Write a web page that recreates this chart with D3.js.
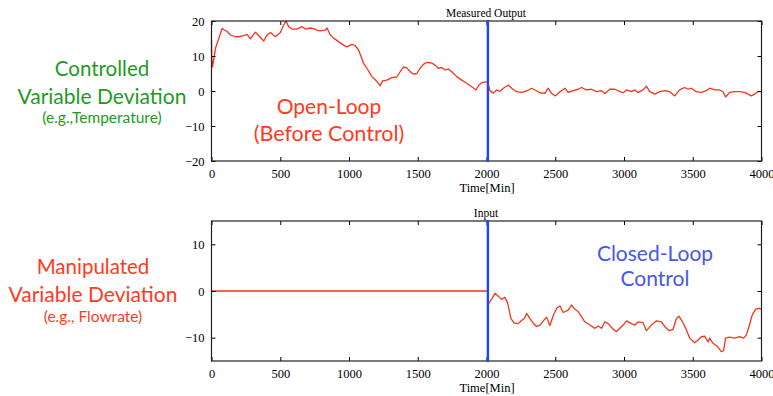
<!DOCTYPE html>
<html>
<head>
<meta charset="utf-8">
<script src="https://cdn.jsdelivr.net/npm/d3@7"></script>
<style>
  html, body { margin: 0; padding: 0; background: #fff; }
  svg { display: block; }
</style>
</head>
<body>
<svg id="chart" width="773" height="396"></svg>
<script>
// Time at which the controller is switched on
const switchTime = 2010;

// Measured output (controlled variable deviation), time in minutes
const outputTime = [0, 1, 8, 29, 53, 77, 90, 114, 138, 174, 198, 235, 259, 283, 319, 344, 380, 404, 428, 465, 501, 525, 542, 561, 586, 622, 658, 682, 719, 743, 767, 791, 827, 840, 864, 888, 924, 961, 985, 1021, 1045, 1070, 1106, 1130, 1167, 1203, 1227, 1244, 1275, 1312, 1348, 1372, 1396, 1421, 1445, 1469, 1493, 1517, 1541, 1566, 1602, 1626, 1650, 1675, 1699, 1723, 1747, 1784, 1820, 1856, 1893, 1924, 1941, 1965, 2008,
  2025, 2050, 2074, 2098, 2122, 2159, 2183, 2219, 2256, 2292, 2328, 2352, 2389, 2425, 2449, 2473, 2502, 2534, 2570, 2594, 2631, 2667, 2691, 2727, 2764, 2800, 2837, 2861, 2897, 2933, 2970, 2994, 3018, 3054, 3079, 3103, 3139, 3163, 3187, 3224, 3260, 3296, 3332, 3369, 3405, 3441, 3466, 3490, 3526, 3563, 3599, 3623, 3659, 3696, 3720, 3739, 3768, 3805, 3841, 3877, 3901, 3926, 3950, 3974, 4000];
const outputValue = [14.6, 10, 6.9, 12.2, 15, 17.9, 17.5, 17, 16, 15.5, 15.5, 15.8, 16.2, 14.9, 16.8, 15.8, 14.3, 16, 16.7, 15.5, 16.7, 18.9, 20, 18.4, 17.7, 17.7, 18.4, 17.7, 18, 17.8, 17.4, 17.2, 17.4, 18, 16, 15.1, 14.1, 13.1, 12.6, 13.3, 13, 11.7, 7.9, 6.5, 4.1, 2.7, 1.5, 2.9, 3.1, 3.8, 4, 5.5, 6.9, 6.6, 5.5, 4.8, 5, 6.5, 7.6, 8.2, 8, 7.4, 6.5, 6.7, 6, 6.3, 5.5, 4.1, 3.1, 2.2, 1.2, 0.3, 1.5, 2.4, 2.7,
  0.1, -0.6, 0.3, -0.1, 0.8, 1.7, 0.8, -0.2, -0.4, 0, 0.8, 0.3, -0.5, -0.7, 0.8, -0.7, -1.4, -0.2, 0.8, -0.4, 0.1, 0.5, 1, 0.3, 0.5, -0.2, 0.1, -0.7, 0.5, 0.5, -0.2, -0.5, 0.3, -0.2, 0.3, -0.4, 0.3, 1.4, -0.2, -0.9, -0.2, 0.1, -0.2, -1.4, 0.3, 1, 0.5, 0.8, -0.2, -0.4, 0.1, 0.8, 0.3, 0.3, -0.2, -1.7, -0.4, -0.2, -0.2, -0.4, -0.9, -1.4, -0.9, -0.2, -0.2];

// Manipulated input (flowrate deviation)
const inputTime = [0, 2008, 2010, 2034, 2062, 2086, 2110, 2134, 2154, 2178, 2202, 2231, 2251, 2275, 2292, 2316, 2340, 2364, 2389, 2413, 2437, 2461, 2485, 2510, 2534, 2558, 2594, 2618, 2643, 2667, 2691, 2715, 2752, 2788, 2812, 2837, 2861, 2885, 2921, 2945, 2970, 2994, 3018, 3054, 3079, 3103, 3139, 3163, 3200, 3236, 3272, 3296, 3328, 3357, 3381, 3400, 3425, 3449, 3478, 3514, 3538, 3563, 3587, 3611, 3623, 3647, 3676, 3708, 3724, 3739, 3768, 3805, 3841, 3870, 3890, 3909, 3933, 3958, 3982, 4000];
const inputValue = [0, 0, -3.0, -1.9, -0.5, -1.1, -1.8, -1.35, -2.6, -5.9, -6.9, -7.0, -6.4, -5.9, -4.8, -5.9, -6.9, -7.6, -7.3, -6.4, -5.6, -7.4, -5.3, -3.7, -3.2, -4.6, -4.1, -3.0, -3.9, -4.4, -5.5, -6.6, -7.3, -8.0, -7.5, -8.0, -6.6, -7.0, -8.2, -8.7, -8.0, -7.3, -6.4, -7.0, -7.3, -6.6, -6.8, -8.5, -7.3, -6.4, -6.6, -7.6, -8.5, -8.2, -5.9, -5.4, -6.6, -8.0, -10.1, -11.1, -10.5, -9.8, -9.7, -10.9, -10.1, -11.2, -11.8, -13.0, -12.8, -10.1, -9.9, -10.1, -9.8, -10.1, -9.4, -7.6, -5.1, -3.9, -3.7, -3.9];

const xTicks = [0, 500, 1000, 1500, 2000, 2500, 3000, 3500, 4000];
const outputTicks = [-20, -10, 0, 10, 20];
const inputTicks = [-10, 0, 10];

const lineColor = "#f2361c";
const switchColor = "#1c45ff";
const serif = "'Liberation Serif', 'Times New Roman', 'DejaVu Serif', serif";
const humanist = "Lato, 'Open Sans', sans-serif";

const svg = d3.select("#chart");
const x = d3.scaleLinear().domain([0, 4000]).range([211.5, 761.5]);

function panel(top, yDomain, yTicks, title, tVals, vVals) {
  const y = d3.scaleLinear().domain(yDomain).range([top + 140, top]);
  const g = svg.append("g");

  // Red series
  const pts = tVals.map((t, i) => [t, vVals[i]]);
  g.append("path")
    .datum(pts)
    .attr("fill", "none")
    .attr("stroke", lineColor)
    .attr("stroke-width", 1.3)
    .attr("stroke-linejoin", "round")
    .attr("d", d3.line().x(d => x(d[0])).y(d => y(d[1])));

  // Axes with inward ticks on all four sides
  const bottom = g.append("g").attr("transform", `translate(0,${top + 140})`)
    .call(d3.axisBottom(x).tickValues(xTicks).tickSize(-4).tickPadding(8).tickFormat(d3.format("d")));
  const topAx = g.append("g").attr("transform", `translate(0,${top})`)
    .call(d3.axisTop(x).tickValues(xTicks).tickSize(-4).tickFormat(""));
  const left = g.append("g").attr("transform", `translate(${x(0)},0)`)
    .call(d3.axisLeft(y).tickValues(yTicks).tickSize(-4).tickPadding(7).tickFormat(d3.format("d")));
  const right = g.append("g").attr("transform", `translate(${x(4000)},0)`)
    .call(d3.axisRight(y).tickValues(yTicks).tickSize(-4).tickFormat(""));
  [bottom, topAx, left, right].forEach(a => {
    a.attr("font-family", serif).attr("font-size", 12.5);
    a.select(".domain").remove();
    a.selectAll(".tick line").attr("stroke", "#000").attr("stroke-width", 1);
    a.selectAll(".tick text").attr("fill", "#000");
  });

  // Frame
  g.append("rect")
    .attr("x", x(0)).attr("y", top)
    .attr("width", x(4000) - x(0)).attr("height", 140)
    .attr("fill", "none").attr("stroke", "#222").attr("stroke-width", 1.2);

  // Controller switch-on marker
  g.append("line")
    .attr("x1", x(switchTime)).attr("x2", x(switchTime))
    .attr("y1", top - 1).attr("y2", top + 141)
    .attr("stroke", switchColor).attr("stroke-width", 2.4);

  g.append("text")
    .attr("font-family", serif).attr("font-size", 11.5)
    .attr("x", 486).attr("y", top - 4).attr("text-anchor", "middle").text(title);
  g.append("text")
    .attr("font-family", serif).attr("font-size", 12.5)
    .attr("x", 487).attr("y", top + 171).attr("text-anchor", "middle").text("Time[Min]");
}

panel(21, [-20, 20], outputTicks, "Measured Output", outputTime, outputValue);
panel(221, [-15, 15], inputTicks, "Input", inputTime, inputValue);

// Annotations
function label(lines, cx, color) {
  lines.forEach(l => {
    svg.append("text")
      .attr("font-family", humanist)
      .attr("x", cx).attr("y", l.y)
      .attr("text-anchor", "middle")
      .attr("font-size", l.size)
      .attr("fill", color)
      .text(l.text);
  });
}

const green = "#1f9a1f";
const red = "#ff3a1e";
const blue = "#4757e6";

label([{ text: "Controlled", y: 76, size: 20.5 },
       { text: "Variable Deviation", y: 104, size: 21 },
       { text: "(e.g.,Temperature)", y: 123, size: 15.5 }], 102, green);
label([{ text: "Manipulated", y: 274, size: 20.5 },
       { text: "Variable Deviation", y: 302, size: 21 },
       { text: "(e.g., Flowrate)", y: 322, size: 15.5 }], 93, red);
label([{ text: "Open-Loop", y: 114, size: 21 },
       { text: "(Before Control)", y: 141, size: 21.5 }], 329, red);
label([{ text: "Closed-Loop", y: 261, size: 21 },
       { text: "Control", y: 286, size: 21 }], 655, blue);
</script>
</body>
</html>
